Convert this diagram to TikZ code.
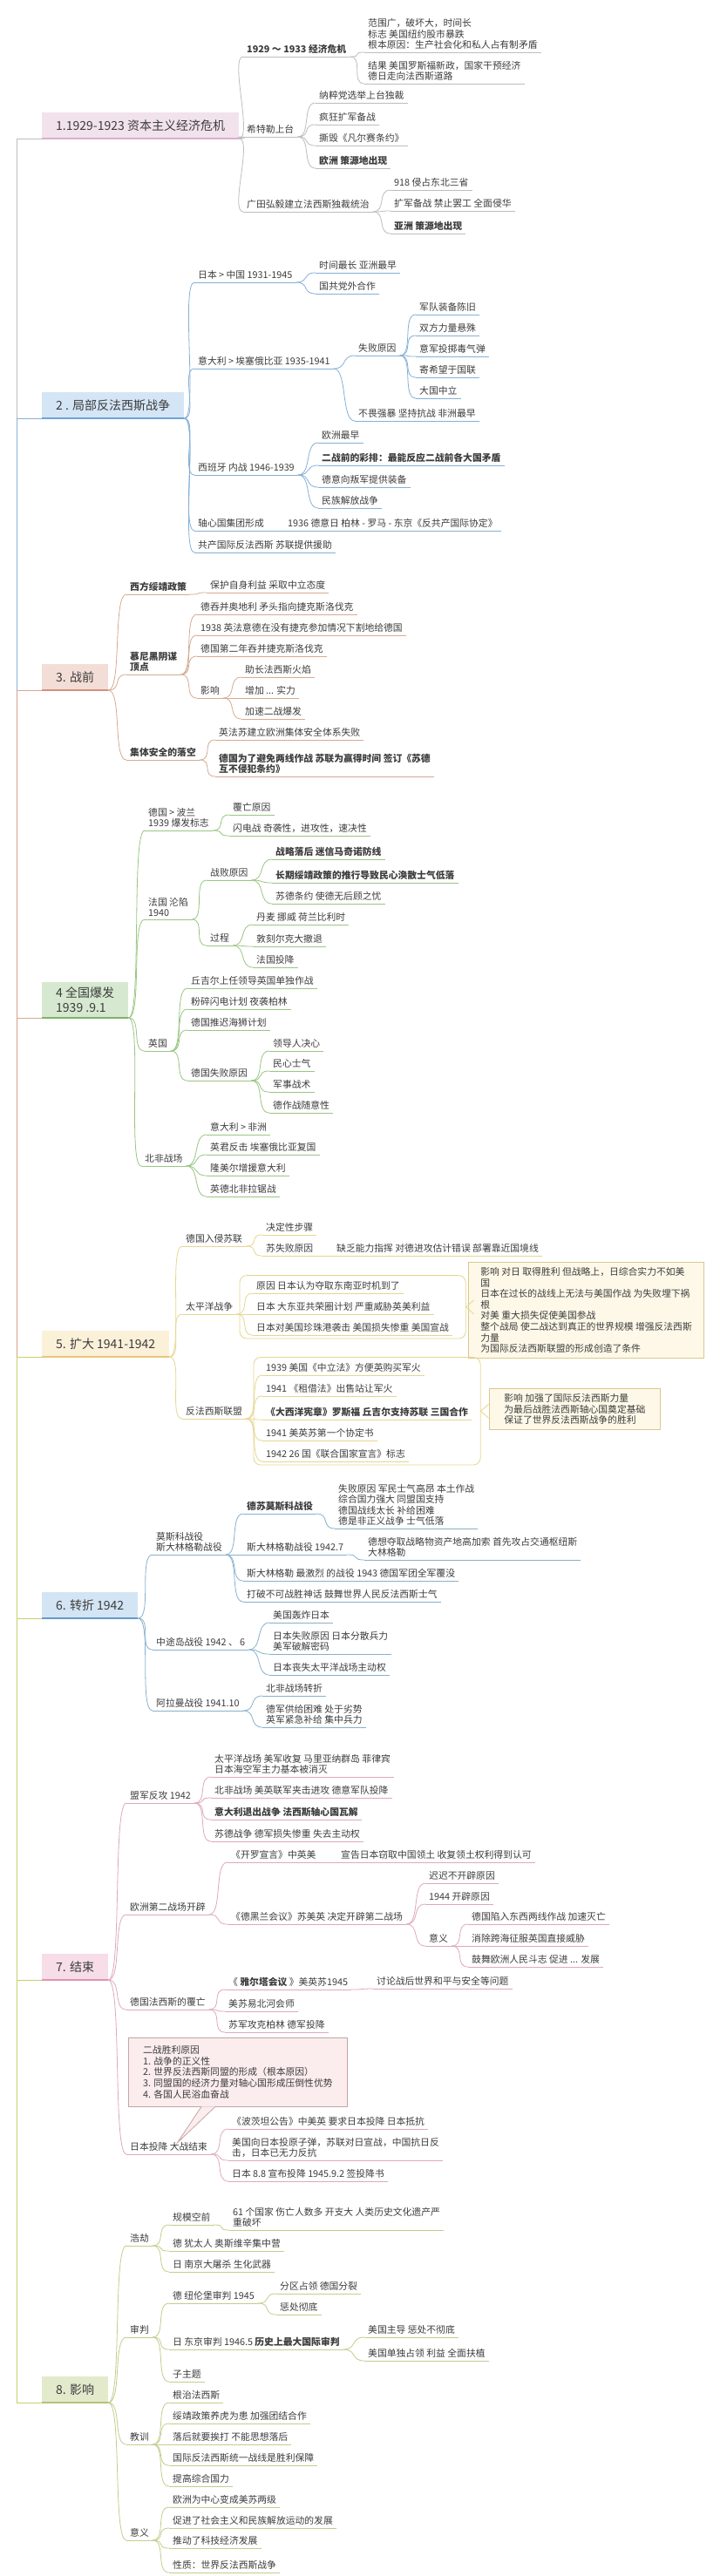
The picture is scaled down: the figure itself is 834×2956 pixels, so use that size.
\documentclass[tikz,border=0pt]{standalone}
\usepackage{fontspec}
\setmainfont{Noto Sans CJK SC}
\usepackage{tikz}
\usetikzlibrary{fit, calc}

\definecolor{txt}{HTML}{3C3C3C}
% one set of colours per main branch
\definecolor{line1}{HTML}{BDBDBD}\definecolor{fill1}{HTML}{F1E2EC}\definecolor{edge1}{HTML}{D9AECB}
\definecolor{line2}{HTML}{86B0D6}\definecolor{fill2}{HTML}{D4E5F6}\definecolor{edge2}{HTML}{6FA3D6}
\definecolor{line3}{HTML}{D6AA92}\definecolor{fill3}{HTML}{F3DDD7}\definecolor{edge3}{HTML}{D5917A}
\definecolor{line4}{HTML}{99C683}\definecolor{fill4}{HTML}{D6E9D0}\definecolor{edge4}{HTML}{80B26A}
\definecolor{line5}{HTML}{E6D68F}\definecolor{fill5}{HTML}{FBF1D9}\definecolor{edge5}{HTML}{E8C77A}
\definecolor{line6}{HTML}{89B0CC}\definecolor{fill6}{HTML}{D3E4F4}\definecolor{edge6}{HTML}{6699CC}
\definecolor{line7}{HTML}{DEA9BA}\definecolor{fill7}{HTML}{F6DDE7}\definecolor{edge7}{HTML}{DE94AC}
\definecolor{line8}{HTML}{C3CD8C}\definecolor{fill8}{HTML}{E3EACC}\definecolor{edge8}{HTML}{B5C079}
\definecolor{seg1}{HTML}{BDBDBD}\definecolor{seg2}{HTML}{8AB3D9}
\definecolor{seg3}{HTML}{D9A08A}\definecolor{seg4}{HTML}{C8CF6E}
\definecolor{sumfill}{HTML}{FDF8E8}\definecolor{sumline}{HTML}{DCC88F}
\definecolor{notefill}{HTML}{FBEDED}\definecolor{noteline}{HTML}{C4A6A4}

\newcommand\leaffont{\fontsize{10.8}{12.6}\selectfont}
\newcommand\topicfont{\fontsize{14}{17}\selectfont}

\begin{document}
\begin{tikzpicture}[x=1pt, y=-1pt,
    leaf/.style={anchor=south west, inner xsep=4pt, inner ysep=3pt, align=left, text=txt, font=\leaffont,
      append after command={(\tikzlastnode.south west) edge[draw=br, line width=.8pt] (\tikzlastnode.south east)}},
    strong/.style={font=\leaffont\bfseries},
    link/.style={draw=br, line width=.8pt, out=0, in=180, distance=16pt},
    topic/.style={anchor=south west, fill=#1, inner xsep=16pt, inner ysep=6pt, minimum height=30pt, align=left, text=txt, font=\topicfont},
    trunk/.style={draw=#1, line width=1pt},
    bound/.style={draw=br, line width=.8pt, rounded corners=8pt, inner xsep=15pt, inner ysep=4pt},
    sumbox/.style={anchor=north west, draw=sumline, fill=sumfill, line width=.8pt, align=left, text=txt, font=\leaffont, inner xsep=14pt, inner ysep=6pt}]
\path[use as bounding box, fill=white] (0,0) rectangle (834,2956);

% trunk on the left
\coordinate (k1) at (19,159);
\coordinate (k2) at (19,480);
\coordinate (k3) at (19,792);
\coordinate (k4) at (19,1168);
\coordinate (k5) at (19,1557);
\coordinate (k6) at (19,1857);
\coordinate (k7) at (19,2272);
\coordinate (k8) at (19,2757);
\draw[trunk=seg1] (k1) -- (k2);
\draw[trunk=seg2] (k2) -- (k3);
\draw[trunk=seg3] (k3) -- (k5);
\draw[trunk=seg4] (k5) -- (k8);

% 1
\begin{scope}
  \colorlet{br}{line1}
  \node[topic=fill1] (t1) at (48,159) {1.1929-1923 资本主义经济危机};
  \draw[edge1, line width=2pt] (t1.south west) -- (t1.south east);
  \draw[line1, line width=1pt] (k1) -- (t1.south west);
  \node[leaf, strong] (t1a) at (279,65) {1929 ～ 1933 经济危机};
  \node[leaf] (t1a1) at (418,60) {范围广，破坏大，时间长\\标志 美国纽约股市暴跌\\根本原因：生产社会化和私人占有制矛盾};
  \node[leaf] (t1a2) at (418,96) {结果 美国罗斯福新政，国家干预经济\\德日走向法西斯道路};
  \node[leaf] (t1b) at (279,157) {希特勒上台};
  \node[leaf] (t1b1) at (362,118) {纳粹党选举上台独裁};
  \node[leaf] (t1b2) at (362,143) {疯狂扩军备战};
  \node[leaf] (t1b3) at (362,167) {撕毁《凡尔赛条约》};
  \node[leaf, strong] (t1b4) at (362,193) {欧洲 策源地出现};
  \node[leaf] (t1c) at (279,243) {广田弘毅建立法西斯独裁统治};
  \node[leaf] (t1c1) at (448,218) {918 侵占东北三省};
  \node[leaf] (t1c2) at (448,242) {扩军备战 禁止罢工 全面侵华};
  \node[leaf, strong] (t1c3) at (448,268) {亚洲 策源地出现};
  \path[link]
    (t1.south east) edge (t1a.south west)
    (t1.south east) edge (t1b.south west)
    (t1.south east) edge (t1c.south west)
    (t1a.south east) edge (t1a1.south west)
    (t1a.south east) edge (t1a2.south west)
    (t1b.south east) edge (t1b1.south west)
    (t1b.south east) edge (t1b2.south west)
    (t1b.south east) edge (t1b3.south west)
    (t1b.south east) edge (t1b4.south west)
    (t1c.south east) edge (t1c1.south west)
    (t1c.south east) edge (t1c2.south west)
    (t1c.south east) edge (t1c3.south west);
\end{scope}

% 2
\begin{scope}
  \colorlet{br}{line2}
  \node[topic=fill2] (t2) at (48,480) {2 . 局部反法西斯战争};
  \draw[edge2, line width=2pt] (t2.south west) -- (t2.south east);
  \draw[line2, line width=1pt] (k2) -- (t2.south west);
  \node[leaf] (t2a) at (223,324) {日本 > 中国 1931-1945};
  \node[leaf] (t2a1) at (362,313) {时间最长 亚洲最早};
  \node[leaf] (t2a2) at (362,337) {国共党外合作};
  \node[leaf] (t2b) at (223,423) {意大利 > 埃塞俄比亚 1935-1941};
  \node[leaf] (t2b1) at (407,408) {失败原因};
  \node[leaf] (t2b11) at (477,361) {军队装备陈旧};
  \node[leaf] (t2b12) at (477,385) {双方力量悬殊};
  \node[leaf] (t2b13) at (477,409) {意军投掷毒气弹};
  \node[leaf] (t2b14) at (477,433) {寄希望于国联};
  \node[leaf] (t2b15) at (477,457) {大国中立};
  \node[leaf] (t2b2) at (407,483) {不畏强暴 坚持抗战 非洲最早};
  \node[leaf] (t2c) at (223,545) {西班牙 内战 1946-1939};
  \node[leaf] (t2c1) at (365,508) {欧洲最早};
  \node[leaf, strong] (t2c2) at (365,534) {二战前的彩排：最能反应二战前各大国矛盾};
  \node[leaf] (t2c3) at (365,559) {德意向叛军提供装备};
  \node[leaf] (t2c4) at (365,583) {民族解放战争};
  \node[leaf] (t2d) at (223,609) {轴心国集团形成};
  \node[leaf] (t2d1) at (326,609) {1936 德意日 柏林 - 罗马 - 东京《反共产国际协定》};
  \node[leaf] (t2e) at (223,634) {共产国际反法西斯 苏联提供援助};
  \path[link]
    (t2.south east) edge (t2a.south west)
    (t2.south east) edge (t2b.south west)
    (t2.south east) edge (t2c.south west)
    (t2.south east) edge (t2d.south west)
    (t2.south east) edge (t2e.south west)
    (t2a.south east) edge (t2a1.south west)
    (t2a.south east) edge (t2a2.south west)
    (t2b.south east) edge (t2b1.south west)
    (t2b.south east) edge (t2b2.south west)
    (t2b1.south east) edge (t2b11.south west)
    (t2b1.south east) edge (t2b12.south west)
    (t2b1.south east) edge (t2b13.south west)
    (t2b1.south east) edge (t2b14.south west)
    (t2b1.south east) edge (t2b15.south west)
    (t2c.south east) edge (t2c1.south west)
    (t2c.south east) edge (t2c2.south west)
    (t2c.south east) edge (t2c3.south west)
    (t2c.south east) edge (t2c4.south west)
    (t2d.south east) edge (t2d1.south west);
\end{scope}

% 3
\begin{scope}
  \colorlet{br}{line3}
  \node[topic=fill3] (t3) at (48,792) {3. 战前};
  \draw[edge3, line width=2pt] (t3.south west) -- (t3.south east);
  \draw[line3, line width=1pt] (k3) -- (t3.south west);
  \node[leaf, strong] (t3a) at (145,682) {西方绥靖政策};
  \node[leaf] (t3a1) at (237,680) {保护自身利益 采取中立态度};
  \node[leaf, strong] (t3b) at (145,774) {慕尼黑阴谋\\顶点};
  \node[leaf] (t3b1) at (226,705) {德吞并奥地利 矛头指向捷克斯洛伐克};
  \node[leaf] (t3b2) at (226,729) {1938 英法意德在没有捷克参加情况下割地给德国};
  \node[leaf] (t3b3) at (226,753) {德国第二年吞并捷克斯洛伐克};
  \node[leaf] (t3b4) at (226,801) {影响};
  \node[leaf] (t3b41) at (277,777) {助长法西斯火焰};
  \node[leaf] (t3b42) at (277,801) {增加 ... 实力};
  \node[leaf] (t3b43) at (277,825) {加速二战爆发};
  \node[leaf, strong] (t3c) at (145,872) {集体安全的落空};
  \node[leaf] (t3c1) at (247,849) {英法苏建立欧洲集体安全体系失败};
  \node[leaf, strong] (t3c2) at (247,891) {德国为了避免两线作战 苏联为赢得时间 签订《苏德\\互不侵犯条约》};
  \path[link]
    (t3.south east) edge (t3a.south west)
    (t3.south east) edge (t3b.south west)
    (t3.south east) edge (t3c.south west)
    (t3a.south east) edge (t3a1.south west)
    (t3b.south east) edge (t3b1.south west)
    (t3b.south east) edge (t3b2.south west)
    (t3b.south east) edge (t3b3.south west)
    (t3b.south east) edge (t3b4.south west)
    (t3b4.south east) edge (t3b41.south west)
    (t3b4.south east) edge (t3b42.south west)
    (t3b4.south east) edge (t3b43.south west)
    (t3c.south east) edge (t3c1.south west)
    (t3c.south east) edge (t3c2.south west);
\end{scope}

% 4
\begin{scope}
  \colorlet{br}{line4}
  \node[topic=fill4] (t4) at (48,1168) {4 全国爆发\\1939 .9.1};
  \draw[edge4, line width=2pt] (t4.south west) -- (t4.south east);
  \draw[line3, line width=1pt] (k4) -- (t4.south west);
  \node[leaf] (t4a) at (166,953) {德国 > 波兰\\1939 爆发标志};
  \node[leaf] (t4a1) at (263,935) {覆亡原因};
  \node[leaf] (t4a2) at (263,959) {闪电战 奇袭性，进攻性，速决性};
  \node[leaf] (t4b) at (166,1055) {法国 沦陷\\1940};
  \node[leaf] (t4b1) at (237,1010) {战败原因};
  \node[leaf, strong] (t4b11) at (312,986) {战略落后 迷信马奇诺防线};
  \node[leaf, strong] (t4b12) at (312,1013) {长期绥靖政策的推行导致民心涣散士气低落};
  \node[leaf] (t4b13) at (312,1037) {苏德条约 使德无后顾之忧};
  \node[leaf] (t4b2) at (237,1085) {过程};
  \node[leaf] (t4b21) at (290,1061) {丹麦 挪威 荷兰比利时};
  \node[leaf] (t4b22) at (290,1086) {敦刻尔克大撤退};
  \node[leaf] (t4b23) at (290,1110) {法国投降};
  \node[leaf] (t4c) at (166,1206) {英国};
  \node[leaf] (t4c1) at (215,1134) {丘吉尔上任领导英国单独作战};
  \node[leaf] (t4c2) at (215,1158) {粉碎闪电计划 夜袭柏林};
  \node[leaf] (t4c3) at (215,1182) {德国推迟海狮计划};
  \node[leaf] (t4c4) at (215,1240) {德国失败原因};
  \node[leaf] (t4c41) at (309,1206) {领导人决心};
  \node[leaf] (t4c42) at (309,1229) {民心士气};
  \node[leaf] (t4c43) at (309,1253) {军事战术};
  \node[leaf] (t4c44) at (309,1277) {德作战随意性};
  \node[leaf] (t4d) at (162,1338) {北非战场};
  \node[leaf] (t4d1) at (237,1302) {意大利 > 非洲};
  \node[leaf] (t4d2) at (237,1325) {英君反击 埃塞俄比亚复国};
  \node[leaf] (t4d3) at (237,1349) {隆美尔增援意大利};
  \node[leaf] (t4d4) at (237,1373) {英德北非拉锯战};
  \path[link]
    (t4.south east) edge (t4a.south west)
    (t4.south east) edge (t4b.south west)
    (t4.south east) edge (t4c.south west)
    (t4.south east) edge (t4d.south west)
    (t4a.south east) edge (t4a1.south west)
    (t4a.south east) edge (t4a2.south west)
    (t4b.south east) edge (t4b1.south west)
    (t4b.south east) edge (t4b2.south west)
    (t4b1.south east) edge (t4b11.south west)
    (t4b1.south east) edge (t4b12.south west)
    (t4b1.south east) edge (t4b13.south west)
    (t4b2.south east) edge (t4b21.south west)
    (t4b2.south east) edge (t4b22.south west)
    (t4b2.south east) edge (t4b23.south west)
    (t4c.south east) edge (t4c1.south west)
    (t4c.south east) edge (t4c2.south west)
    (t4c.south east) edge (t4c3.south west)
    (t4c.south east) edge (t4c4.south west)
    (t4c4.south east) edge (t4c41.south west)
    (t4c4.south east) edge (t4c42.south west)
    (t4c4.south east) edge (t4c43.south west)
    (t4c4.south east) edge (t4c44.south west)
    (t4d.south east) edge (t4d1.south west)
    (t4d.south east) edge (t4d2.south west)
    (t4d.south east) edge (t4d3.south west)
    (t4d.south east) edge (t4d4.south west);
\end{scope}

% 5
\begin{scope}
  \colorlet{br}{line5}
  \node[topic=fill5] (t5) at (48,1557) {5. 扩大 1941-1942};
  \draw[edge5, line width=2pt] (t5.south west) -- (t5.south east);
  \draw[seg4, line width=1pt] (k5) -- (t5.south west);
  \node[leaf] (t5a) at (209,1430) {德国入侵苏联};
  \node[leaf] (t5a1) at (301,1417) {决定性步骤};
  \node[leaf] (t5a2) at (301,1441) {苏失败原因};
  \node[leaf] (t5a21) at (382,1441) {缺乏能力指挥 对德进攻估计错误 部署靠近国境线};
  \node[leaf] (t5b) at (209,1508) {太平洋战争};
  \node[leaf] (t5b1) at (290,1484) {原因 日本认为夺取东南亚时机到了};
  \node[leaf] (t5b2) at (290,1508) {日本 大东亚共荣圈计划 严重威胁英美利益};
  \node[leaf] (t5b3) at (290,1532) {日本对美国珍珠港袭击 美国损失惨重 美国宣战};
  \node[bound, fit=(t5b1)(t5b2)(t5b3)] (bd5b) {};
  \node[sumbox] (s5b) at (537,1448) {影响 对日 取得胜利 但战略上，日综合实力不如美\\国\\日本在过长的战线上无法与美国作战 为失败埋下祸\\根\\对美 重大损失促使美国参战\\整个战局 使二战达到真正的世界规模 增强反法西斯\\力量\\为国际反法西斯联盟的形成创造了条件};
  \node[leaf] (t5c) at (209,1628) {反法西斯联盟};
  \node[leaf] (t5c1) at (301,1578) {1939 美国《中立法》方便英购买军火};
  \node[leaf] (t5c2) at (301,1602) {1941 《租借法》出售站让军火};
  \node[leaf, strong] (t5c3) at (301,1629) {《大西洋宪章》罗斯福 丘吉尔支持苏联 三国合作};
  \node[leaf] (t5c4) at (301,1653) {1941 美英苏第一个协定书};
  \node[leaf] (t5c5) at (301,1677) {1942 26 国《联合国家宣言》标志};
  \node[bound, inner xsep=10pt, fit=(t5c1)(t5c3)(t5c5)] (bd5c) {};
  \node[sumbox, minimum width=196pt] (s5c) at (561,1593) {影响 加强了国际反法西斯力量\\为最后战胜法西斯轴心国奠定基础\\保证了世界反法西斯战争的胜利};
  \path[link]
    (t5.south east) edge (t5a.south west)
    (t5.south east) edge (t5b.south west)
    (t5.south east) edge (t5c.south west)
    (t5a.south east) edge (t5a1.south west)
    (t5a.south east) edge (t5a2.south west)
    (t5a2.south east) edge (t5a21.south west)
    (t5b.south east) edge (t5b1.south west)
    (t5b.south east) edge (t5b2.south west)
    (t5b.south east) edge (t5b3.south west)
    (t5c.south east) edge (t5c1.south west)
    (t5c.south east) edge (t5c2.south west)
    (t5c.south east) edge (t5c3.south west)
    (t5c.south east) edge (t5c4.south west)
    (t5c.south east) edge (t5c5.south west);
  % summary brackets
  \draw[br, line width=.8pt] ($(bd5b.east)+(9,-8)$) -- (bd5b.east) -- ($(bd5b.east)+(9,8)$);
  \draw[br, line width=.8pt] ($(bd5c.east)+(9,-8)$) -- (bd5c.east) -- ($(bd5c.east)+(9,8)$);
\end{scope}

% 6
\begin{scope}
  \colorlet{br}{line6}
  \node[topic=fill6] (t6) at (48,1857) {6. 转折 1942};
  \draw[edge6, line width=2pt] (t6.south west) -- (t6.south east);
  \draw[seg4, line width=1pt] (k6) -- (t6.south west);
  \node[leaf] (t6a) at (175,1784) {莫斯科战役\\斯大林格勒战役};
  \node[leaf, strong] (t6a1) at (279,1737) {德苏莫斯科战役};
  \node[leaf] (t6a11) at (384,1754) {失败原因 军民士气高昂 本土作战\\综合国力强大 同盟国支持\\德国战线太长 补给困难\\德是非正义战争 士气低落};
  \node[leaf] (t6a2) at (279,1784) {斯大林格勒战役 1942.7};
  \node[leaf] (t6a21) at (418,1790) {德想夺取战略物资产地高加索 首先攻占交通枢纽斯\\大林格勒};
  \node[leaf] (t6a3) at (279,1814) {斯大林格勒 最激烈 的战役 1943 德国军团全军覆没};
  \node[leaf] (t6a4) at (279,1838) {打破不可战胜神话 鼓舞世界人民反法西斯士气};
  \node[leaf] (t6b) at (175,1893) {中途岛战役 1942 、 6};
  \node[leaf] (t6b1) at (309,1862) {美国轰炸日本};
  \node[leaf] (t6b2) at (309,1898) {日本失败原因 日本分散兵力\\美军破解密码};
  \node[leaf] (t6b3) at (309,1922) {日本丧失太平洋战场主动权};
  \node[leaf] (t6c) at (175,1963) {阿拉曼战役 1941.10};
  \node[leaf] (t6c1) at (301,1946) {北非战场转折};
  \node[leaf] (t6c2) at (301,1982) {德军供给困难 处于劣势\\英军紧急补给 集中兵力};
  \path[link]
    (t6.south east) edge (t6a.south west)
    (t6.south east) edge (t6b.south west)
    (t6.south east) edge (t6c.south west)
    (t6a.south east) edge (t6a1.south west)
    (t6a.south east) edge (t6a2.south west)
    (t6a.south east) edge (t6a3.south west)
    (t6a.south east) edge (t6a4.south west)
    (t6a1.south east) edge (t6a11.south west)
    (t6a2.south east) edge (t6a21.south west)
    (t6b.south east) edge (t6b1.south west)
    (t6b.south east) edge (t6b2.south west)
    (t6b.south east) edge (t6b3.south west)
    (t6c.south east) edge (t6c1.south west)
    (t6c.south east) edge (t6c2.south west);
\end{scope}

% 7
\begin{scope}
  \colorlet{br}{line7}
  \node[topic=fill7] (t7) at (48,2272) {7. 结束};
  \draw[edge7, line width=2pt] (t7.south west) -- (t7.south east);
  \draw[seg4, line width=1pt] (k7) -- (t7.south west);
  \node[leaf] (t7a) at (145,2069) {盟军反攻 1942};
  \node[leaf] (t7a1) at (242,2039) {太平洋战场 美军收复 马里亚纳群岛 菲律宾\\日本海空军主力基本被消灭};
  \node[leaf] (t7a2) at (242,2063) {北非战场 美英联军夹击进攻 德意军队投降};
  \node[leaf, strong] (t7a3) at (242,2088) {意大利退出战争 法西斯轴心国瓦解};
  \node[leaf] (t7a4) at (242,2113) {苏德战争 德军损失惨重 失去主动权};
  \node[leaf] (t7b) at (145,2197) {欧洲第二战场开辟};
  \node[leaf] (t7b1) at (261,2137) {《开罗宣言》中英美};
  \node[leaf] (t7b11) at (387,2137) {宣告日本窃取中国领土 收复领土权利得到认可};
  \node[leaf] (t7b2) at (261,2208) {《德黑兰会议》苏美英 决定开辟第二战场};
  \node[leaf] (t7b21) at (488,2161) {迟迟不开辟原因};
  \node[leaf] (t7b22) at (488,2185) {1944 开辟原因};
  \node[leaf] (t7b23) at (488,2233) {意义};
  \node[leaf] (t7b231) at (537,2208) {德国陷入东西两线作战 加速灭亡};
  \node[leaf] (t7b232) at (537,2233) {消除跨海征服英国直接威胁};
  \node[leaf] (t7b233) at (537,2257) {鼓舞欧洲人民斗志 促进 ... 发展};
  \node[leaf] (t7c) at (145,2306) {德国法西斯的覆亡};
  \node[leaf] (t7c1) at (258,2283) {《 {\bfseries 雅尔塔会议} 》美英苏1945};
  \node[leaf] (t7c11) at (428,2282) {讨论战后世界和平与安全等问题};
  \node[leaf] (t7c2) at (258,2308) {美苏易北河会师};
  \node[leaf] (t7c3) at (258,2332) {苏军攻克柏林 德军投降};
  \node[leaf] (t7d) at (145,2472) {日本投降 大战结束};
  \node[leaf] (t7d1) at (262,2443) {《波茨坦公告》中美英 要求日本投降 日本抵抗};
  \node[leaf] (t7d2) at (262,2479) {美国向日本投原子弹，苏联对日宣战，中国抗日反\\击，日本已无力反抗};
  \node[leaf] (t7d3) at (262,2503) {日本 8.8 宣布投降 1945.9.2 签投降书};
  % note box hanging on t7d
  \node[anchor=north west, draw=noteline, fill=notefill, line width=.8pt, align=left, text=txt, font=\leaffont,
    inner xsep=11pt, inner ysep=8pt, minimum width=251pt, minimum height=79pt] (c7) at (147,2338)
    {二战胜利原因\\1. 战争的正义性\\2. 世界反法西斯同盟的形成（根本原因）\\3. 同盟国的经济力量对轴心国形成压倒性优势\\4. 各国人民浴血奋战};
  \filldraw[draw=noteline, fill=notefill, line width=.8pt]
    ($(c7.south west)+(84,-.4)$) -- ($(t7d.north)+(10,3)$) -- ($(c7.south west)+(100,-.4)$);
  \path[link]
    (t7.south east) edge (t7a.south west)
    (t7.south east) edge (t7b.south west)
    (t7.south east) edge (t7c.south west)
    (t7.south east) edge (t7d.south west)
    (t7a.south east) edge (t7a1.south west)
    (t7a.south east) edge (t7a2.south west)
    (t7a.south east) edge (t7a3.south west)
    (t7a.south east) edge (t7a4.south west)
    (t7b.south east) edge (t7b1.south west)
    (t7b.south east) edge (t7b2.south west)
    (t7b1.south east) edge (t7b11.south west)
    (t7b2.south east) edge (t7b21.south west)
    (t7b2.south east) edge (t7b22.south west)
    (t7b2.south east) edge (t7b23.south west)
    (t7b23.south east) edge (t7b231.south west)
    (t7b23.south east) edge (t7b232.south west)
    (t7b23.south east) edge (t7b233.south west)
    (t7c.south east) edge (t7c1.south west)
    (t7c.south east) edge (t7c2.south west)
    (t7c.south east) edge (t7c3.south west)
    (t7c1.south east) edge (t7c11.south west)
    (t7d.south east) edge (t7d1.south west)
    (t7d.south east) edge (t7d2.south west)
    (t7d.south east) edge (t7d3.south west);
\end{scope}

% 8
\begin{scope}
  \colorlet{br}{line8}
  \node[topic=fill8] (t8) at (48,2757) {8. 影响};
  \draw[edge8, line width=2pt] (t8.south west) -- (t8.south east);
  \draw[seg4, line width=1pt] (k8) -- (t8.south west);
  \node[leaf] (t8a) at (145,2577) {浩劫};
  \node[leaf] (t8a1) at (194,2553) {规模空前};
  \node[leaf] (t8a11) at (263,2559) {61 个国家 伤亡人数多 开支大 人类历史文化遗产严\\重破坏};
  \node[leaf] (t8a2) at (194,2583) {德 犹太人 奥斯维辛集中营};
  \node[leaf] (t8a3) at (194,2607) {日 南京大屠杀 生化武器};
  \node[leaf] (t8b) at (145,2682) {审判};
  \node[leaf] (t8b1) at (194,2643) {德 纽伦堡审判 1945};
  \node[leaf] (t8b11) at (317,2632) {分区占领 德国分裂};
  \node[leaf] (t8b12) at (317,2656) {惩处彻底};
  \node[leaf] (t8b2) at (194,2696) {日 东京审判 1946.5 {\bfseries 历史上最大国际审判}};
  \node[leaf] (t8b21) at (418,2682) {美国主导 惩处不彻底};
  \node[leaf] (t8b22) at (418,2709) {美国单独占领 利益 全面扶植};
  \node[leaf] (t8b3) at (194,2733) {子主题};
  \node[leaf] (t8c) at (145,2805) {教训};
  \node[leaf] (t8c1) at (194,2757) {根治法西斯};
  \node[leaf] (t8c2) at (194,2781) {绥靖政策养虎为患 加强团结合作};
  \node[leaf] (t8c3) at (194,2805) {落后就要挨打 不能思想落后};
  \node[leaf] (t8c4) at (194,2829) {国际反法西斯统一战线是胜利保障};
  \node[leaf] (t8c5) at (194,2853) {提高综合国力};
  \node[leaf] (t8d) at (145,2915) {意义};
  \node[leaf] (t8d1) at (194,2877) {欧洲为中心变成美苏两级};
  \node[leaf] (t8d2) at (194,2901) {促进了社会主义和民族解放运动的发展};
  \node[leaf] (t8d3) at (194,2924) {推动了科技经济发展};
  \node[leaf] (t8d4) at (194,2952) {性质：世界反法西斯战争};
  \path[link]
    (t8.south east) edge (t8a.south west)
    (t8.south east) edge (t8b.south west)
    (t8.south east) edge (t8c.south west)
    (t8.south east) edge (t8d.south west)
    (t8a.south east) edge (t8a1.south west)
    (t8a.south east) edge (t8a2.south west)
    (t8a.south east) edge (t8a3.south west)
    (t8a1.south east) edge (t8a11.south west)
    (t8b.south east) edge (t8b1.south west)
    (t8b.south east) edge (t8b2.south west)
    (t8b.south east) edge (t8b3.south west)
    (t8b1.south east) edge (t8b11.south west)
    (t8b1.south east) edge (t8b12.south west)
    (t8b2.south east) edge (t8b21.south west)
    (t8b2.south east) edge (t8b22.south west)
    (t8c.south east) edge (t8c1.south west)
    (t8c.south east) edge (t8c2.south west)
    (t8c.south east) edge (t8c3.south west)
    (t8c.south east) edge (t8c4.south west)
    (t8c.south east) edge (t8c5.south west)
    (t8d.south east) edge (t8d1.south west)
    (t8d.south east) edge (t8d2.south west)
    (t8d.south east) edge (t8d3.south west)
    (t8d.south east) edge (t8d4.south west);
\end{scope}
\end{tikzpicture}
\end{document}
